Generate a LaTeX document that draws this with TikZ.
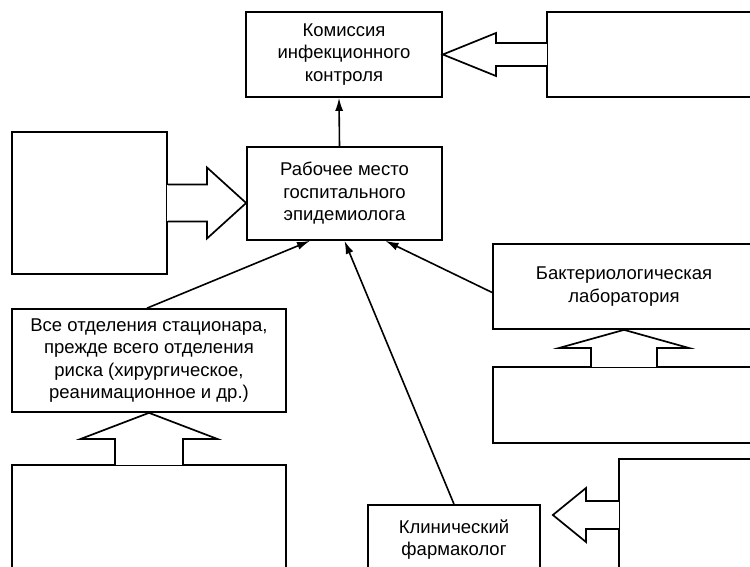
\documentclass[tikz,border=0pt]{standalone}
\usepackage{fontspec}
\setmainfont{Liberation Sans}
\usetikzlibrary{calc,arrows.meta}
\tikzset{
  box/.style={draw, line width=1.7pt, inner sep=0pt, align=center, anchor=center,
    font=\fontsize{18.5}{22.5}\selectfont},
  bigarrow/.style={draw, line width=1.7pt, line join=miter},
  gap/.style={fill=white},
  conn/.style={line width=1.6pt, -{Latex[length=13pt,width=8pt]}}
}
\begin{document}
\begin{tikzpicture}[x=1pt,y=-1pt]
\path[use as bounding box] (0,0) rectangle (750,567);
\clip (0,0) rectangle (750,567);
% boxes
\node[box, minimum width=196pt, minimum height=85pt] (kom) at (344,54.5) {Комиссия\\инфекционного\\контроля};
\node[box, minimum width=253pt, minimum height=85pt] (rt) at (673.5,54.5) {};
\node[box, minimum width=195pt, minimum height=93pt] (rab) at (344.5,193.5) {Рабочее место\\госпитального\\эпидемиолога};
\node[box, minimum width=155pt, minimum height=142pt] (lbox) at (89.5,203) {};
\node[box, minimum width=262pt, minimum height=85pt] (lab) at (624,286.5) {Бактериологическая\\лаборатория};
\node[box, minimum width=262pt, minimum height=76pt] (labsrc) at (624,405) {};
\node[box, minimum width=274pt, minimum height=103pt] (vse) at (149,360.5) {Все отделения стационара,\\прежде всего отделения\\риска (хирургическое,\\реанимационное и др.)};
\node[box, minimum width=274pt, minimum height=155pt] (vsesrc) at (149,542.5) {};
\node[box, minimum width=172pt, minimum height=69pt] (klin) at (454,539.5) {Клинический\\фармаколог};
\node[box, minimum width=181pt, minimum height=112pt] (rbsrc) at (709.5,515) {};
% big arrows
\fill[gap] ($(rt.west)+(-1.3,-10.6)$) rectangle ($(rt.west)+(1.3,10.6)$);
\draw[bigarrow] ($(rt.west)+(0,-11.5)$) -- (496,43) -- (496,33) -- (kom.east) -- (496,76) -- (496,66) -- ($(rt.west)+(0,11.5)$);
\fill[gap] ($(lbox.east)+(-1.3,-17.6)$) rectangle ($(lbox.east)+(1.3,17.6)$);
\draw[bigarrow] ($(lbox.east)+(0,-18.5)$) -- (207,184.5) -- (207,167.5) -- (rab.west |- lbox.east) -- (207,238.5) -- (207,221.5) -- ($(lbox.east)+(0,18.5)$);
\fill[gap] ($(labsrc.north)+(-32.1,-1.3)$) rectangle ($(labsrc.north)+(32.1,1.3)$);
\draw[bigarrow] ($(labsrc.north)+(-33,0)$) -- (591,348) -- (559,348) -- (lab.south) -- (689,348) -- (657,348) -- ($(labsrc.north)+(33,0)$);
\fill[gap] ($(vsesrc.north)+(-33.1,-1.3)$) rectangle ($(vsesrc.north)+(33.1,1.3)$);
\draw[bigarrow] ($(vsesrc.north)+(-34,0)$) -- (115,439) -- (80.5,439) -- (vse.south) -- (217.5,439) -- (183,439) -- ($(vsesrc.north)+(34,0)$);
\fill[gap] ($(rbsrc.west)+(-1.3,-13.1)$) rectangle ($(rbsrc.west)+(1.3,13.1)$);
\draw[bigarrow] ($(rbsrc.west)+(0,-14)$) -- (586,501) -- (586,488) -- ($(klin.east |- rbsrc.west)+(12,0)$) -- (586,542) -- (586,529) -- ($(rbsrc.west)+(0,14)$);
% connectors
\draw[conn] ([xshift=-5pt]rab.north) -- ([xshift=-5pt]kom.south);
\draw[conn] ([xshift=-2pt]vse.north) -- ([xshift=-34.5pt]rab.south);
\draw[conn] (klin.north) -- (rab.south);
\draw[conn] ([yshift=-6pt]lab.west) -- ([xshift=41pt]rab.south);
\end{tikzpicture}
\end{document}
